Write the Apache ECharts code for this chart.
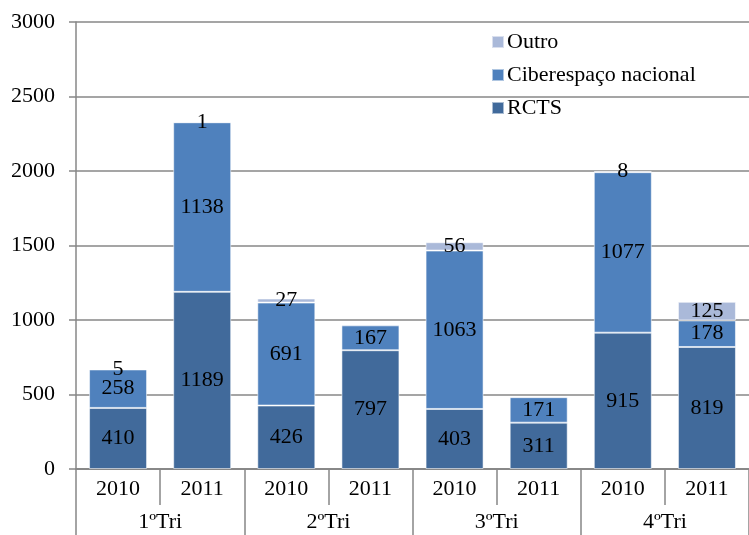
<!DOCTYPE html>
<html><head><meta charset="utf-8">
<script src="https://cdn.jsdelivr.net/npm/echarts@6/dist/echarts.min.js"></script>
<style>html,body{margin:0;padding:0;background:#fff}#c{width:749px;height:535px}</style>
</head><body><div id="c"></div>
<script>
const years = ['2010','2011','2010','2011','2010','2011','2010','2011'];
const quarters = ['1ºTri','2ºTri','3ºTri','4ºTri'];
const rcts = [410, 1189, 426, 797, 403, 311, 915, 819];
const ciber = [258, 1138, 691, 167, 1063, 171, 1077, 178];
const outro = [5, 1, 27, 0, 56, 0, 8, 125];
const yTicks = [0, 500, 1000, 1500, 2000, 2500, 3000];

const font = 'Liberation Serif, DejaVu Serif, serif';
const fs = 22;
const axisCol = '#878787';
function mk(name, vals, color){
  return {
    name, type:'bar', stack:'t', barWidth:58,
    data: vals.map(v => v === 0 ? null : v),
    itemStyle:{color, borderColor:'rgba(255,255,255,0.55)', borderWidth:1},
    label:{show:true, position:'inside', color:'#000', fontFamily:font, fontSize:fs,
      formatter: p => (p.value ? String(p.value) : '')},
    emphasis:{disabled:true}
  };
}
const chart = echarts.init(document.getElementById('c'));
chart.setOption({
  animation:false,
  grid:{left:76, top:22, width:673, height:447, containLabel:false},
  legend:{
    data:['Outro','Ciberespaço nacional','RCTS'],
    orient:'vertical', left:486, top:26, itemWidth:12, itemHeight:12, itemGap:11,
    icon:'rect', textStyle:{fontFamily:font, fontSize:fs, color:'#000', padding:[0,0,0,-2]}
  },
  xAxis:[
    {type:'category', data:years, position:'bottom',
     axisLine:{lineStyle:{color:axisCol, width:1.5}},
     axisTick:{show:true, alignWithLabel:false, length:36, lineStyle:{color:axisCol, width:1.5}},
     axisLabel:{color:'#000', fontFamily:font, fontSize:fs, margin:9}},
    {type:'category', data:quarters, position:'bottom',
     axisLine:{lineStyle:{color:axisCol, width:1.5}},
     axisTick:{show:true, alignWithLabel:false, length:66, lineStyle:{color:axisCol, width:1.5}},
     axisLabel:{color:'#000', fontFamily:font, fontSize:fs, margin:42}}
  ],
  yAxis:{type:'value', min:yTicks[0], max:yTicks[yTicks.length-1], interval:500,
    axisLine:{show:true, lineStyle:{color:axisCol, width:1.5}},
    axisTick:{show:true, length:7, lineStyle:{color:axisCol, width:1.5}},
    splitLine:{show:true, lineStyle:{color:axisCol, width:1.5}},
    axisLabel:{color:'#000', fontFamily:font, fontSize:fs, margin:21, formatter: v => String(v)}},
  series:[
    mk('RCTS', rcts, '#416a9b'),
    mk('Ciberespaço nacional', ciber, '#4f81bd'),
    mk('Outro', outro, '#aab9d9')
  ]
});
</script></body></html>
